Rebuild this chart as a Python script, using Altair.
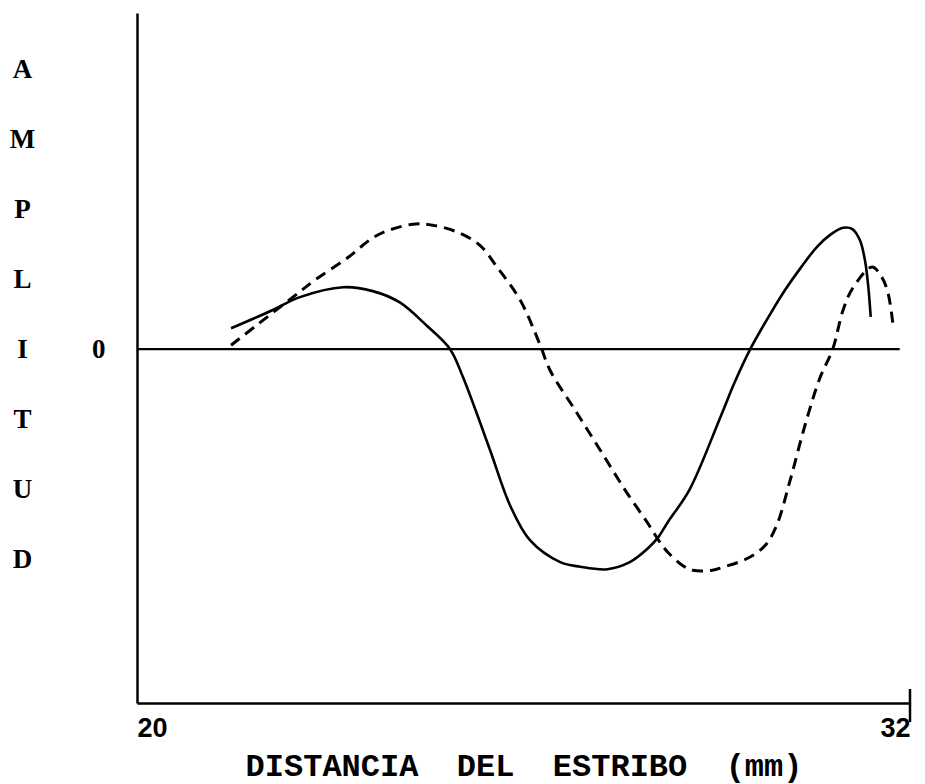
import altair as alt
import pandas as pd

# Distance from the stapes (mm) and amplitude of the two travelling-wave traces
solid_x = [21.46, 22.10, 22.53, 23.20, 23.66, 24.08, 24.50, 24.86, 25.06, 25.48,
           25.79, 26.10, 26.57, 26.88, 27.30, 27.65, 27.92, 28.09, 28.24, 28.58,
           29.05, 29.28, 29.52, 29.83, 30.06, 30.30, 30.56, 30.76, 30.96, 31.10,
           31.22, 31.30, 31.35, 31.39]
solid_y = [0.59, 1.10, 1.47, 1.75, 1.64, 1.32, 0.66, 0.00, -0.79, -2.85,
           -4.41, -5.40, -6.02, -6.15, -6.22, -6.02, -5.65, -5.32, -4.89, -3.96,
           -1.95, -0.93, 0.00, 0.99, 1.67, 2.29, 2.90, 3.23, 3.43, 3.40,
           3.09, 2.52, 1.81, 0.91]

dashed_x = [21.46, 21.86, 22.42, 22.76, 23.26, 23.73, 24.28, 24.59, 24.97, 25.32,
            25.59, 25.95, 26.26, 26.41, 26.80, 27.19, 27.58, 27.93, 28.12, 28.24,
            28.48, 28.63, 28.93, 29.10, 29.48, 29.75, 29.93, 30.14, 30.37, 30.60,
            30.80, 30.96, 31.11, 31.41, 31.56, 31.66, 31.74]
dashed_y = [0.11, 0.68, 1.47, 1.95, 2.57, 3.22, 3.53, 3.50, 3.31, 2.94,
            2.32, 1.38, 0.11, -0.59, -1.72, -2.85, -3.99, -4.92, -5.46, -5.74,
            -6.13, -6.25, -6.25, -6.16, -5.91, -5.55, -4.98, -3.70, -2.15, -0.82,
            0.00, 1.10, 1.72, 2.32, 2.04, 1.58, 0.62]

x_ticks = [20, 32]
x_domain = [20, 32]
y_domain = [-10, 9.5]
zero_line_end = 31.84
y_title = list("AMPLITUD")
x_title = "\u00a0\u00a0".join(["DISTANCIA", "DEL", "ESTRIBO", "(mm)"])

W, H = 773, 690

x_scale = alt.Scale(domain=x_domain, nice=False, zero=False)
y_scale = alt.Scale(domain=y_domain, nice=False, zero=False)

x_axis = alt.Axis(
    values=x_ticks, format="d", grid=False, ticks=False,
    domain=True, domainColor="black", domainWidth=2.5,
    labelFlush=True, labelFont="Liberation Sans", labelFontWeight="bold",
    labelFontSize=27, labelColor="black", labelPadding=12,
    title=x_title, titleFont="Liberation Mono", titleFontWeight="bold",
    titleFontSize=32, titleColor="black", titleY=72,
    titleBaseline="alphabetic",
)
y_axis = alt.Axis(
    values=[0], format="d", grid=False, ticks=False,
    domain=True, domainColor="black", domainWidth=2.5,
    labelFont="Liberation Serif", labelFontWeight="bold", labelFontSize=27,
    labelColor="black", labelPadding=32,
    title=y_title, titleAngle=0, titleX=-115, titleY=64,
    titleAlign="center", titleBaseline="alphabetic", titleLineHeight=70,
    titleFont="Liberation Serif", titleFontWeight="bold", titleFontSize=27,
    titleColor="black",
)

solid_df = pd.DataFrame({"d": solid_x, "a": solid_y})
dashed_df = pd.DataFrame({"d": dashed_x, "a": dashed_y})

solid = alt.Chart(solid_df).mark_line(
    color="black", strokeWidth=2.6, interpolate="catmull-rom"
).encode(
    x=alt.X("d:Q", scale=x_scale, axis=x_axis),
    y=alt.Y("a:Q", scale=y_scale, axis=y_axis),
)

dashed = alt.Chart(dashed_df).mark_line(
    color="black", strokeWidth=3, strokeDash=[11, 7], interpolate="catmull-rom"
).encode(
    x=alt.X("d:Q", scale=x_scale),
    y=alt.Y("a:Q", scale=y_scale),
)

zero_line = alt.Chart(pd.DataFrame({"a": [0]})).mark_rule(
    color="black", strokeWidth=2.2
).encode(
    x=alt.datum(x_domain[0], type="quantitative", scale=x_scale),
    x2=alt.datum(zero_line_end),
    y=alt.Y("a:Q", scale=y_scale),
)

end_tick = alt.Chart(pd.DataFrame({"d": x_ticks[-1:]})).mark_rule(
    color="black", strokeWidth=2.5
).encode(
    x=alt.X("d:Q", scale=x_scale),
    y=alt.value(H - 14),
    y2=alt.value(H + 19),
)

chart = alt.layer(solid, dashed, zero_line, end_tick).properties(
    width=W, height=H,
    autosize=alt.AutoSizeParams(type="none"),
    padding={"left": 137, "top": 13, "right": 15, "bottom": 81},
    background="white",
).configure_view(stroke=None)

chart.save("out.html", embed_options={"renderer": "svg", "actions": False})
